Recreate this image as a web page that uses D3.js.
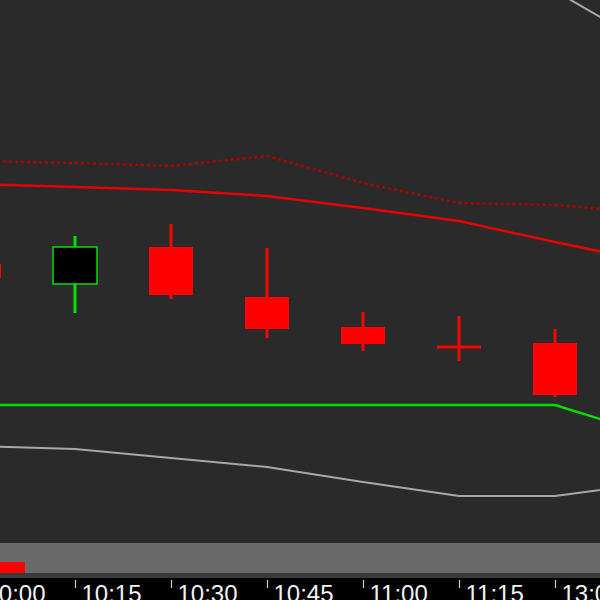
<!DOCTYPE html>
<html>
<head>
<meta charset="utf-8">
<script src="https://cdn.jsdelivr.net/npm/d3@7"></script>
<style>
  body { margin: 0; background: #000; }
  svg { display: block; }
</style>
</head>
<body>
<div id="main"></div>
<script>

var width = 600,
    height = 600;

// time slots (last one sits just past the right edge)
var times = ["10:00", "10:15", "10:30", "10:45", "11:00", "11:15", "13:00", "13:15"];

// candles: open / high / low / close
var opens  = [22.76, 22.56, 22.93, 22.43, 22.13, 21.93, 21.97];
var highs  = [22.95, 23.04, 23.16, 22.92, 22.28, 22.24, 22.11];
var lows   = [22.50, 22.27, 22.41, 22.02, 21.89, 21.79, 21.43];
var closes = [22.62, 22.93, 22.45, 22.11, 21.96, 21.93, 21.45];

// indicator lines
var upperDotted = [23.79, 23.77, 23.74, 23.84, 23.57, 23.37, 23.35, 23.27];
var upperRed    = [23.56, 23.53, 23.50, 23.44, 23.32, 23.19, 22.98, 22.78];
var lowerGreen  = [21.35, 21.35, 21.35, 21.35, 21.35, 21.35, 21.35, 21.05];
var bandUpper   = [26.60, 26.50, 26.40, 26.30, 26.10, 25.90, 25.49, 24.94];
var bandLower   = [20.94, 20.91, 20.82, 20.73, 20.58, 20.44, 20.44, 20.57];

var PANEL_BOTTOM = 543;
var CANDLE_W = 44;

var svg = d3.select("div#main")
    .append("svg")
    .attr("width", width)
    .attr("height", height);

var x = d3.scalePoint()
    .domain(times)
    .range([-21, -21 + 96 * (times.length - 1)]);

// 1.00 of price = 100px
var y = d3.scaleLinear()
    .domain([25.40, 19.97])
    .range([0, PANEL_BOTTOM]);

svg.append("defs").append("clipPath")
    .attr("id", "panel")
    .append("rect")
    .attr("width", width)
    .attr("height", PANEL_BOTTOM);

// background
svg.append("rect")
    .attr("width", width)
    .attr("height", PANEL_BOTTOM)
    .attr("fill", "#2a2a2a");

var plot = svg.append("g").attr("clip-path", "url(#panel)");

function lineOf(vals) {
    return d3.line()
        .x(function(d, i) { return x(times[i]); })
        .y(function(d) { return y(d); })(vals);
}

plot.append("path").attr("d", lineOf(bandUpper))
    .attr("fill", "none").attr("stroke", "#a8a8a8").attr("stroke-width", 2);
plot.append("path").attr("d", lineOf(bandLower))
    .attr("fill", "none").attr("stroke", "#a8a8a8").attr("stroke-width", 2);
plot.append("path").attr("d", lineOf(upperDotted))
    .attr("fill", "none").attr("stroke", "#b00000").attr("stroke-width", 2.5)
    .attr("stroke-dasharray", "3,3");
plot.append("path").attr("d", lineOf(upperRed))
    .attr("fill", "none").attr("stroke", "#e80000").attr("stroke-width", 2.5);
plot.append("path").attr("d", lineOf(lowerGreen))
    .attr("fill", "none").attr("stroke", "#00dd00").attr("stroke-width", 2.5);

var candles = opens.map(function(o, i) {
    return { t: times[i], o: o, h: highs[i], l: lows[i], c: closes[i] };
});

var cg = plot.selectAll(".candle")
    .data(candles)
    .enter().append("g")
    .attr("class", "candle");

cg.append("line")
    .attr("x1", function(d) { return x(d.t); })
    .attr("x2", function(d) { return x(d.t); })
    .attr("y1", function(d) { return y(d.h); })
    .attr("y2", function(d) { return y(d.l); })
    .attr("stroke", function(d) { return d.c > d.o ? "#00e000" : "#ff0000"; })
    .attr("stroke-width", 3);

cg.append("rect")
    .attr("x", function(d) { return x(d.t) - CANDLE_W / 2; })
    .attr("width", CANDLE_W)
    .attr("y", function(d) { return y(Math.max(d.o, d.c)); })
    .attr("height", function(d) { return Math.max(3, Math.abs(y(d.o) - y(d.c))); })
    .attr("transform", function(d) { return d.o == d.c ? "translate(0,-1.5)" : null; })
    .attr("fill", function(d) { return d.c > d.o ? "#000" : "#ff0000"; })
    .attr("stroke", function(d) { return d.c > d.o ? "#00e000" : "none"; })
    .attr("stroke-width", 1.5);

// lower strip (navigator)
svg.append("rect")
    .attr("y", PANEL_BOTTOM)
    .attr("width", width)
    .attr("height", 30)
    .attr("fill", "#6a6a6a");
svg.append("rect")
    .attr("y", 573)
    .attr("width", width)
    .attr("height", 5)
    .attr("fill", "#3a3a3a");
svg.append("rect")
    .attr("y", 562)
    .attr("width", 25)
    .attr("height", 11)
    .attr("fill", "#ff0000");

// time axis
var axisG = svg.append("g")
    .attr("transform", "translate(0,578)");
axisG.append("rect")
    .attr("width", width)
    .attr("height", 22)
    .attr("fill", "#000");

var axis = d3.axisBottom(x).tickSize(10).tickPadding(0);
axisG.call(axis);
axisG.select(".domain").remove();
axisG.selectAll(".tick line")
    .attr("stroke", "#cfcfcf")
    .attr("stroke-width", 1.2)
    .attr("y1", 2);
axisG.selectAll(".tick text")
    .attr("fill", "#f2f2f2")
    .attr("font-family", "Liberation Sans, Arial, sans-serif")
    .attr("font-size", 24)
    .attr("text-anchor", "start")
    .attr("x", 6)
    .attr("y", 24)
    .attr("dy", 0);

</script>
</body>
</html>
